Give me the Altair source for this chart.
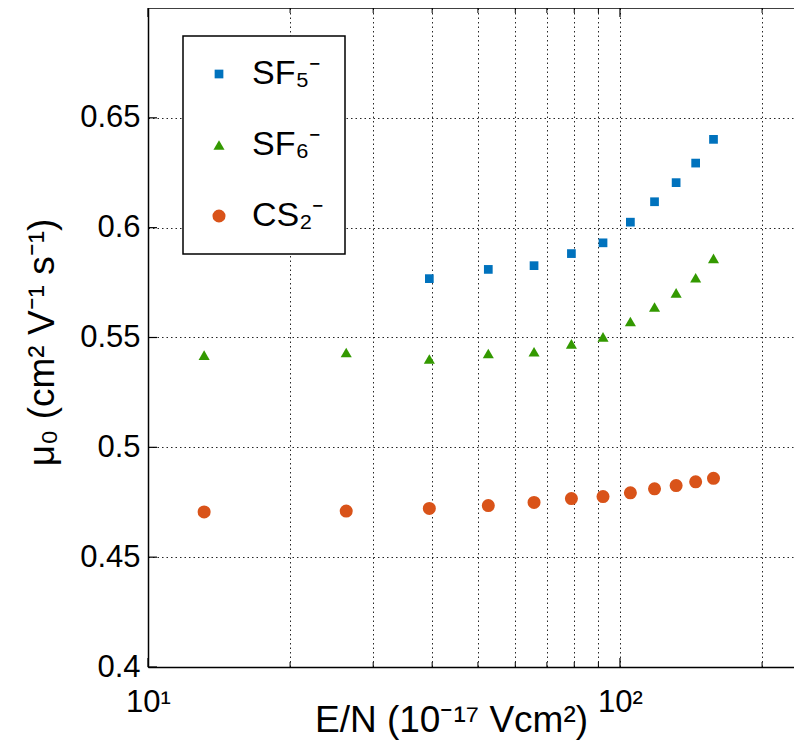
import altair as alt
import pandas as pd

# ---- data ----
en_all = [13.15, 26.3, 39.45, 52.6, 65.75, 78.9, 92.05, 105.2, 118.35, 131.5, 144.65, 157.8]
en_sf5 = [39.45, 52.6, 65.75, 78.9, 92.05, 105.2, 118.35, 131.5, 144.65, 157.8]
mu_sf5 = [0.5768, 0.5810, 0.5827, 0.5882, 0.5931, 0.6025, 0.6118, 0.6205, 0.6294, 0.6402]
mu_sf6 = [0.5420, 0.5432, 0.5402, 0.5427, 0.5435, 0.5471, 0.5503, 0.5573, 0.5639, 0.5703, 0.5772, 0.5860]
mu_cs2 = [0.4706, 0.4710, 0.4722, 0.4735, 0.4749, 0.4767, 0.4776, 0.4793, 0.4811, 0.4826, 0.4843, 0.4859]

series = ["SF₅⁻", "SF₆⁻", "CS₂⁻"]
colors = ["#0072BD", "#339900", "#D95319"]
shapes = ["square", "triangle-up", "circle"]
sizes = [76, 170, 90]

x_grid = [10, 20, 30, 40, 50, 60, 70, 80, 90, 100, 200]
x_major = [10, 100]
x_minor = [20, 30, 40, 50, 60, 70, 80, 90, 200]
y_ticks = [0.4, 0.45, 0.5, 0.55, 0.6, 0.65]

rows = []
for x, y in zip(en_sf5, mu_sf5):
    rows.append({"EN": x, "mu": y, "ion": series[0]})
for x, y in zip(en_all, mu_sf6):
    rows.append({"EN": x, "mu": y, "ion": series[1]})
for x, y in zip(en_all, mu_cs2):
    rows.append({"EN": x, "mu": y, "ion": series[2]})
df = pd.DataFrame(rows)

W, H = 646, 659
FONT = "Liberation Sans"

x_scale = alt.Scale(type="log", domain=[10, 233.7], nice=False)
y_scale = alt.Scale(domain=[0.4, 0.7], nice=False, zero=False)

x_axis = alt.Axis(
    values=x_grid,
    labelExpr="datum.value == 10 ? '10¹' : (datum.value == 100 ? '10²' : '')",
    title="E/N (10⁻¹⁷ Vcm²)", titleX=303, titleY=64,
    titleAlign="center", titleBaseline="alphabetic", titleAnchor="start",
    labelPadding=20,
)
y_axis = alt.Axis(
    values=y_ticks, format=".2~f",
    title="μ₀ (cm² V⁻¹ s⁻¹)", titleX=-95, titleY=334,
    titleAlign="center", titleBaseline="alphabetic", titleAngle=-90,
    labelPadding=8,
)

legend = alt.Legend(
    title=None, orient="none", legendX=35, legendY=28,
    strokeColor="black", fillColor="white",
    padding=21, rowPadding=37, labelFontSize=34, labelFont=FONT,
    labelColor="black", symbolSize=100, symbolStrokeWidth=0,
    symbolOffset=-2, labelOffset=16, cornerRadius=0,
)

points = alt.Chart(df).mark_point(filled=True, opacity=1, strokeWidth=0).encode(
    x=alt.X("EN:Q", scale=x_scale, axis=x_axis),
    y=alt.Y("mu:Q", scale=y_scale, axis=y_axis),
    color=alt.Color("ion:N", scale=alt.Scale(domain=series, range=colors), legend=legend),
    shape=alt.Shape("ion:N", scale=alt.Scale(domain=series, range=shapes), legend=legend),
    size=alt.Size("ion:N", scale=alt.Scale(domain=series, range=sizes), legend=None),
)

tick_df_major = pd.DataFrame({"EN": x_major})
tick_df_minor = pd.DataFrame({"EN": x_minor})
ytick_df = pd.DataFrame({"mu": y_ticks})

xt_major_b = alt.Chart(tick_df_major).mark_rule(color="black", strokeWidth=1.2).encode(
    x=alt.X("EN:Q", scale=x_scale, axis=x_axis), y=alt.value(H), y2=alt.value(H - 9))
xt_major_t = alt.Chart(tick_df_major).mark_rule(color="black", strokeWidth=1.2).encode(
    x=alt.X("EN:Q", scale=x_scale, axis=x_axis), y=alt.value(0), y2=alt.value(9))
xt_minor_b = alt.Chart(tick_df_minor).mark_rule(color="black", strokeWidth=1).encode(
    x=alt.X("EN:Q", scale=x_scale, axis=x_axis), y=alt.value(H), y2=alt.value(H - 5))
xt_minor_t = alt.Chart(tick_df_minor).mark_rule(color="black", strokeWidth=1).encode(
    x=alt.X("EN:Q", scale=x_scale, axis=x_axis), y=alt.value(0), y2=alt.value(5))
yt = alt.Chart(ytick_df).mark_rule(color="black", strokeWidth=1.2).encode(
    y=alt.Y("mu:Q", scale=y_scale, axis=y_axis), x=alt.value(0), x2=alt.value(9))
top_border = alt.Chart(pd.DataFrame({"v": [0]})).mark_rule(color="black", strokeWidth=1.5).encode(
    y=alt.value(0), x=alt.value(0), x2=alt.value(W))

chart = alt.layer(
    points, xt_major_b, xt_major_t, xt_minor_b, xt_minor_t, yt, top_border
).properties(
    width=W, height=H,
    padding={"left": 140, "top": 0, "right": 0, "bottom": 74},
    autosize=alt.AutoSizeParams(type="none"),
).configure_view(stroke=None).configure_legend(
    strokeWidth=1.5
).configure_axis(
    labelFont=FONT, titleFont=FONT, labelFontSize=31, titleFontSize=37,
    labelColor="black", titleColor="black", titleFontWeight="normal",
    domainColor="black", domainWidth=1.5, ticks=False, tickSize=0,
    grid=True, gridColor="#000000", gridDash=[1.5, 3], gridWidth=1, gridOpacity=0.85,
    labelFlush=False, labelOverlap=False,
)

chart.save("out.html", embed_options={"renderer": "svg", "actions": False})
